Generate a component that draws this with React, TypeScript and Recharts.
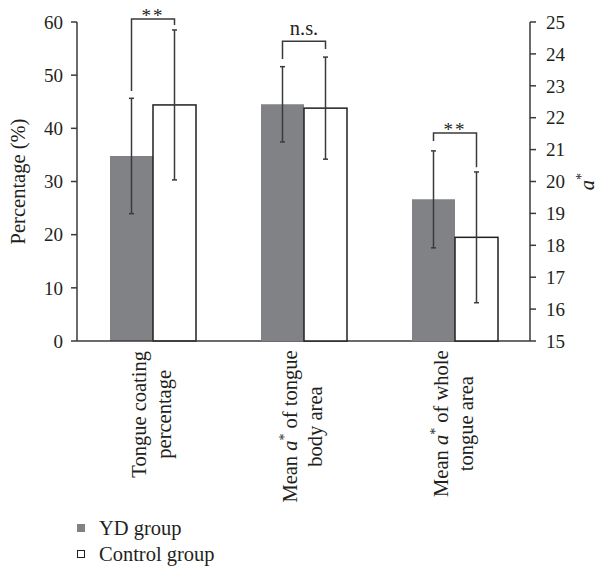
import React from 'react';
import { BarChart, Bar, XAxis, YAxis, ErrorBar } from 'recharts';

// values
const categories = ['Tongue coating|percentage', 'Mean a* of tongue|body area', 'Mean a* of whole|tongue area'];
const onAStarAxis = [false, true, true];
const ydMeans = [34.8, 22.42, 19.44];
const ydErrors = [10.85, 1.18, 1.52];
const controlMeans = [44.4, 22.3, 18.25];
const controlErrors = [14.1, 1.6, 2.05];
const sigLabels = ['**', 'n.s.', '**'];
const bracketTops = [60.56, 24.4, 21.52];
const bracketYdEnds = [47.0, 23.84, 21.27];
const bracketControlEnds = [59.43, 24.15, 20.45];
const percentTicks = [0, 10, 20, 30, 40, 50, 60];
const aStarTicks = [15, 16, 17, 18, 19, 20, 21, 22, 23, 24, 25];

const FONT = "'Liberation Serif', 'DejaVu Serif', serif";
const INK = '#231f20';
const AXIS = '#3a3a3a';
const GRAY = '#808285';
const FS = 19; // tick numbers
const LFS = 20.5; // words

const buildData = (aStar: boolean) =>
  categories.map((name, i) => {
    const keep = onAStarAxis[i] === aStar;
    return {
      name,
      yd: keep ? ydMeans[i] : null,
      ydErr: keep ? ydErrors[i] : null,
      ctrl: keep ? controlMeans[i] : null,
      ctrlErr: keep ? controlErrors[i] : null,
    };
  });

const percentData = buildData(false);
const aStarData = buildData(true);

let measureCtx: CanvasRenderingContext2D | null = null;
const measure = (s: string) => {
  if (!measureCtx) {
    measureCtx = document.createElement('canvas').getContext('2d');
  }
  if (!measureCtx) return s.length * LFS * 0.45;
  measureCtx.font = `${LFS}px ${FONT}`;
  return measureCtx.measureText(s.replace('a*', 'a')).width + (s.includes('a*') ? 7 : 0);
};

// text with italic a and superscript *
const richLine = (line: string) => {
  const idx = line.indexOf('a*');
  if (idx < 0) return line;
  return (
    <>
      {line.slice(0, idx)}
      <tspan fontStyle="italic">a</tspan>
      <tspan dy={-8} fontSize={14}>*</tspan>
      <tspan dy={8}>{line.slice(idx + 2)}</tspan>
    </>
  );
};

const CategoryTick = (props: any) => {
  const { x, y, payload } = props;
  const lines: string[] = String(payload.value).split('|');
  const longest = Math.max(...lines.map(measure));
  const top = y + 2;
  return (
    <g transform={`translate(${x},${top}) rotate(-90)`}>
      {lines.map((l, i) => (
        <text key={i} x={-longest / 2} y={-7 + i * 25} textAnchor="middle" fontFamily={FONT} fontSize={LFS} fill={INK}>
          {richLine(l)}
        </text>
      ))}
    </g>
  );
};

const makeControlShape = (base: number) => (props: any) => {
  const { x, y, width, height, payload } = props;
  if (payload == null || payload.ctrl == null || !height) return <g />;
  const index = categories.indexOf(payload.name);
  const value = payload.ctrl;
  const k = height / (value - base);
  const py = (v: number) => y + (value - v) * k;
  const right = x + width / 2;
  const left = x - width / 2;
  const top = py(bracketTops[index]);
  const label = sigLabels[index];
  return (
    <g>
      <rect x={x} y={y} width={width} height={height} fill="#fff" stroke={INK} strokeWidth={1.5} />
      <path
        d={`M${left},${py(bracketYdEnds[index])}V${top}H${right}V${py(bracketControlEnds[index])}`}
        fill="none"
        stroke={AXIS}
        strokeWidth={1.5}
      />
      <text
        x={(left + right) / 2}
        y={label === '**' ? top + 3 : top - 6}
        textAnchor="middle"
        fontFamily={FONT}
        fontSize={label === '**' ? FS : LFS}
        fill={INK}
        letterSpacing={label === '**' ? 2 : 0}
      >
        {label}
      </text>
    </g>
  );
};

const tickStyle = { fontFamily: FONT, fontSize: FS, fill: INK };

const LegendBox = () => (
  <div style={{ position: 'absolute', left: 77, top: 515, fontFamily: FONT, fontSize: LFS, color: INK, lineHeight: '26px' }}>
    {[
      { name: 'YD group', fill: GRAY, border: 'none' },
      { name: 'Control group', fill: '#fff', border: `1.5px solid ${INK}` },
    ].map((it) => (
      <div key={it.name} style={{ display: 'flex', alignItems: 'center' }}>
        <span style={{ display: 'inline-block', width: 8, height: 8, boxSizing: 'border-box', background: it.fill, border: it.border, marginRight: 14 }} />
        <span>{it.name}</span>
      </div>
    ))}
  </div>
);

export default function App() {
  return (
    <div style={{ position: 'absolute', left: 0, top: 0, width: 597, height: 569, background: '#fff', fontFamily: FONT }}>
      <div style={{ position: 'absolute', left: 0, top: 0 }}>
        <BarChart width={597} height={569} data={percentData} margin={{ top: 22, right: 67, bottom: 0, left: 0 }} barSize={43} barGap={0}>
          <XAxis dataKey="name" height={228} interval={0} tickLine={false} axisLine={{ stroke: AXIS, strokeWidth: 1.5 }} tick={<CategoryTick />} />
          <YAxis
            width={77}
            domain={[0, 60]}
            ticks={percentTicks}
            tickSize={6}
            tickMargin={8}
            tick={tickStyle}
            axisLine={{ stroke: AXIS, strokeWidth: 1.5 }}
            tickLine={{ stroke: AXIS, strokeWidth: 1.5 }}
            label={(p: any) => {
              const vb = p.viewBox || { x: 0, y: 22, width: 77, height: 319 };
              return (
                <text transform={`translate(${vb.x + 25},${vb.y + vb.height / 2}) rotate(-90)`} textAnchor="middle" fontFamily={FONT} fontSize={LFS} fill={INK}>
                  Percentage (%)
                </text>
              );
            }}
          />
          <Bar dataKey="yd" fill={GRAY} isAnimationActive={false}>
            <ErrorBar dataKey="ydErr" width={2.5} stroke={AXIS} strokeWidth={1.5} />
          </Bar>
          <Bar dataKey="ctrl" fill="#fff" shape={makeControlShape(0)} isAnimationActive={false}>
            <ErrorBar dataKey="ctrlErr" width={2.5} stroke={AXIS} strokeWidth={1.5} />
          </Bar>
        </BarChart>
      </div>
      <div style={{ position: 'absolute', left: 0, top: 0 }}>
        <BarChart width={597} height={569} data={aStarData} margin={{ top: 22, right: 0, bottom: 228, left: 77 }} barSize={43} barGap={0}>
          <XAxis dataKey="name" hide />
          <YAxis
            orientation="right"
            width={67}
            domain={[15, 25]}
            ticks={aStarTicks}
            tickSize={6}
            tickMargin={10}
            tick={tickStyle}
            axisLine={{ stroke: AXIS, strokeWidth: 1.5 }}
            tickLine={{ stroke: AXIS, strokeWidth: 1.5 }}
            label={(p: any) => {
              const vb = p.viewBox || { x: 530, y: 22, width: 67, height: 319 };
              return (
                <text transform={`translate(${vb.x + 64},${vb.y + vb.height / 2}) rotate(-90)`} textAnchor="middle" fontFamily={FONT} fontSize={LFS} fill={INK}>
                  <tspan fontStyle="italic">a</tspan>
                  <tspan dy={-8} fontSize={14}>*</tspan>
                </text>
              );
            }}
          />
          <Bar dataKey="yd" fill={GRAY} isAnimationActive={false}>
            <ErrorBar dataKey="ydErr" width={2.5} stroke={AXIS} strokeWidth={1.5} />
          </Bar>
          <Bar dataKey="ctrl" fill="#fff" shape={makeControlShape(15)} isAnimationActive={false}>
            <ErrorBar dataKey="ctrlErr" width={2.5} stroke={AXIS} strokeWidth={1.5} />
          </Bar>
        </BarChart>
      </div>
      <LegendBox />
    </div>
  );
}
